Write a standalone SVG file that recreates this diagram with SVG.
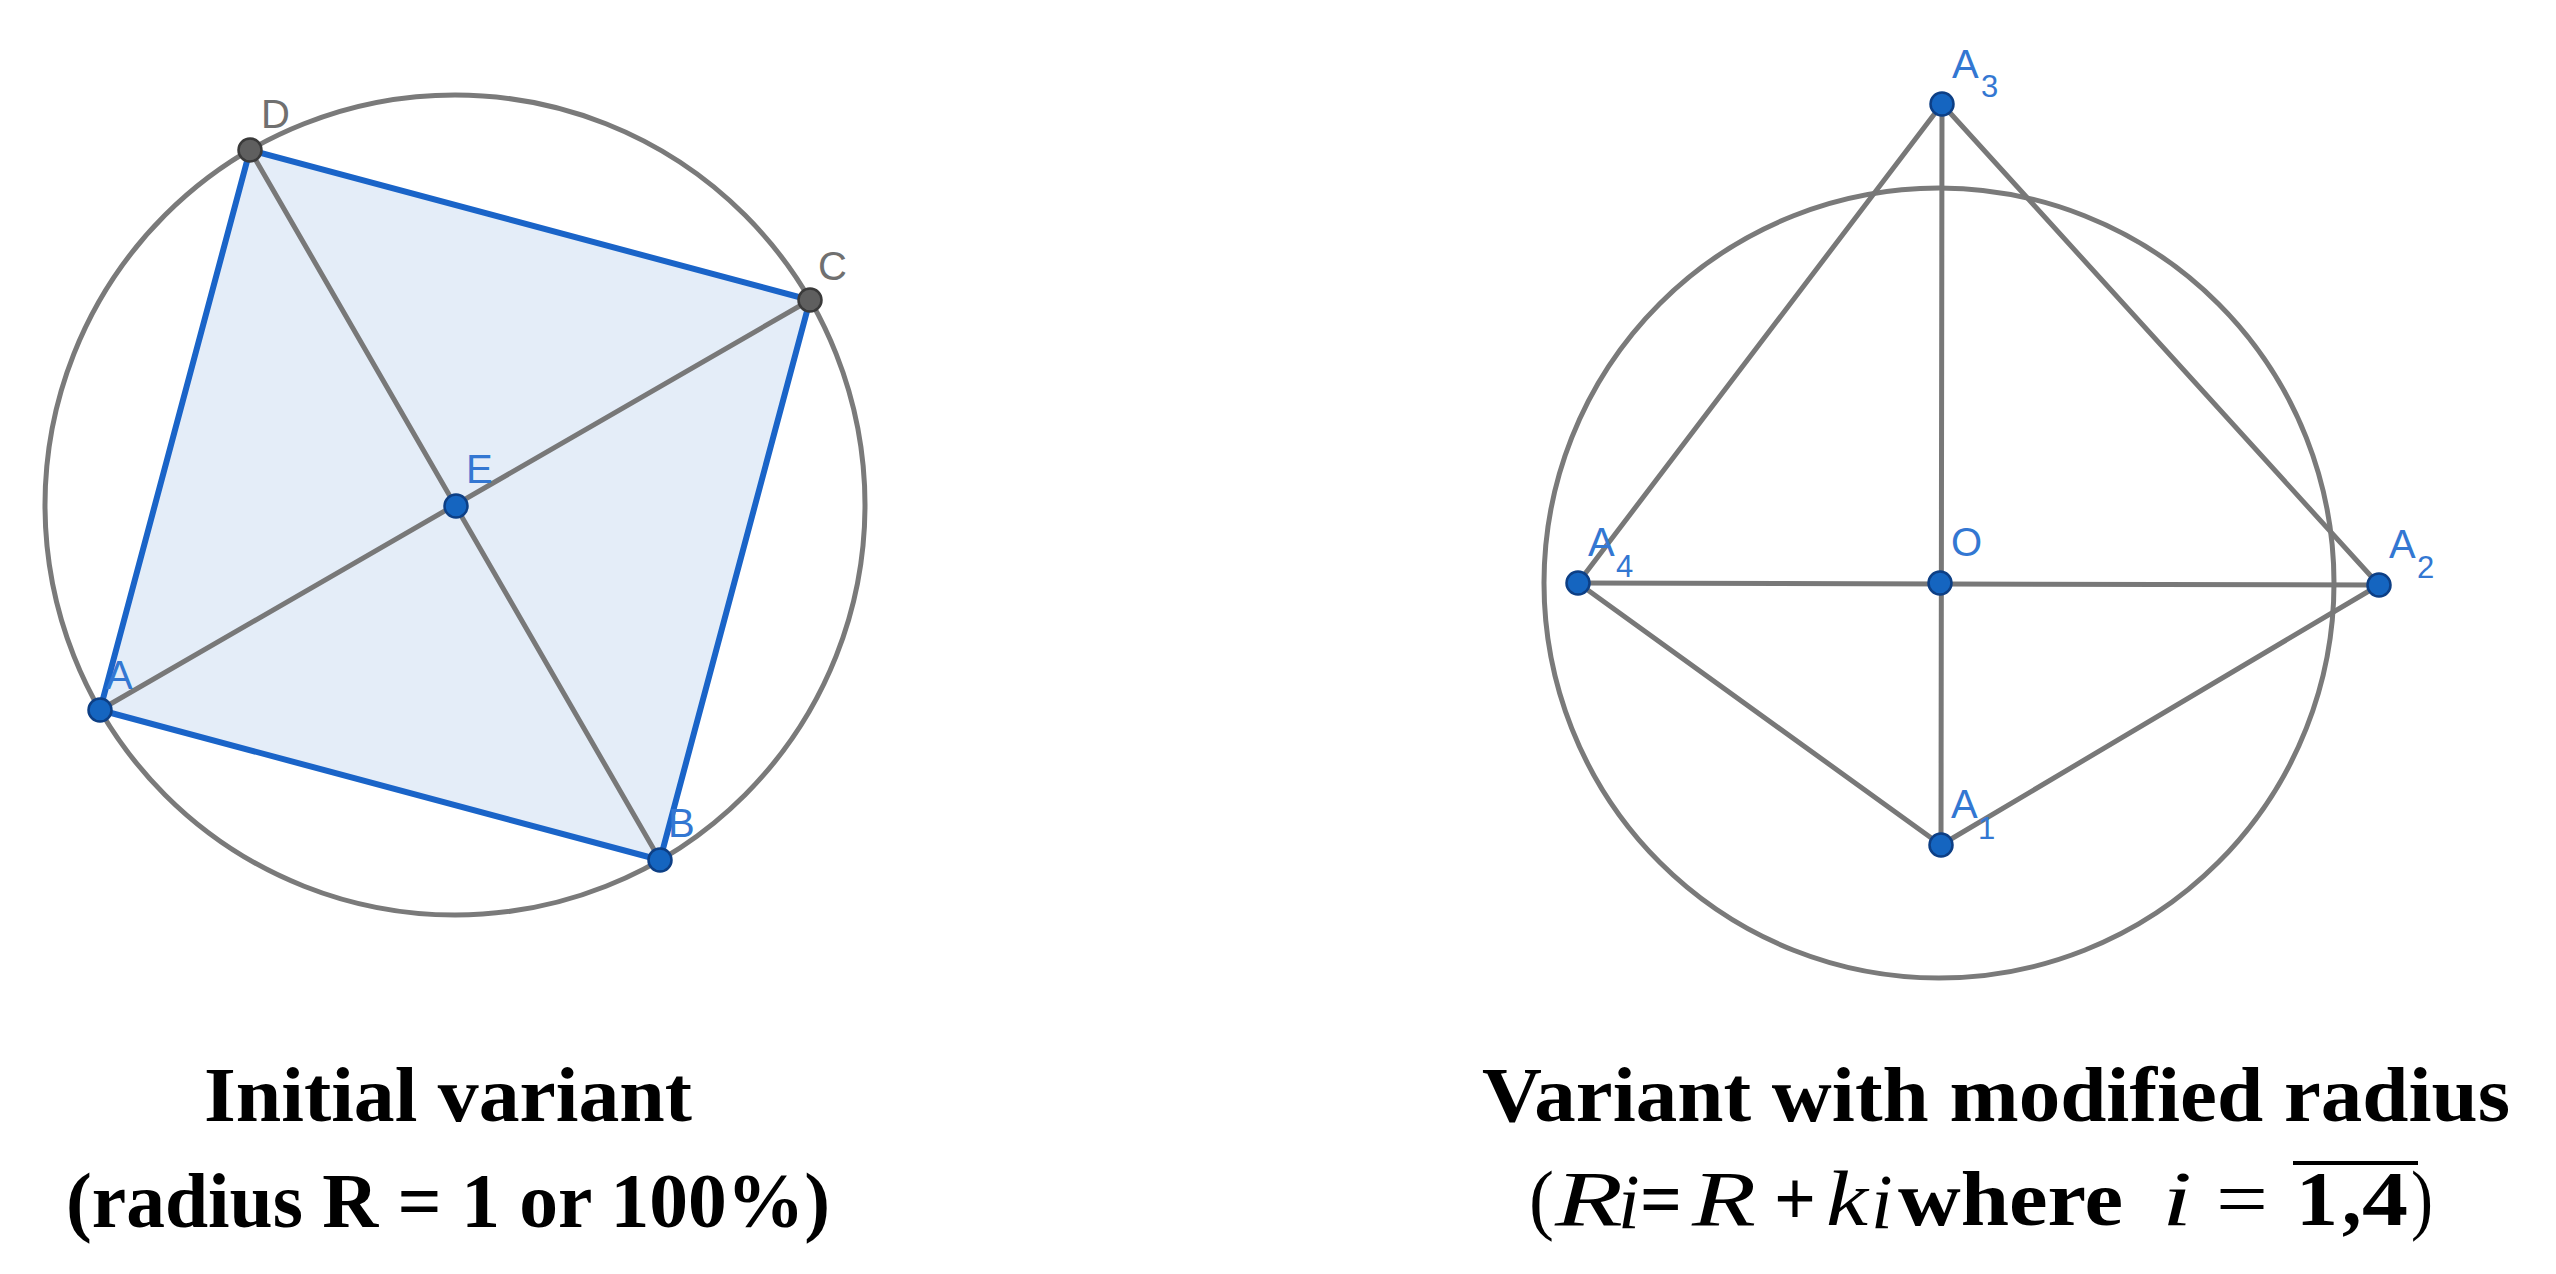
<svg xmlns="http://www.w3.org/2000/svg" width="2556" height="1274" viewBox="0 0 2556 1274">
<style>
.circ{fill:none;stroke:#7a7a7a;stroke-width:5}
.seg{stroke:#787878;stroke-width:5;stroke-linecap:round}
.edge{stroke:#1a64c8;stroke-width:6;stroke-linecap:round}
.pb{fill:#1565c0;stroke:#0d3f85;stroke-width:2.5}
.pg{fill:#5f5f5f;stroke:#3a3a3a;stroke-width:2.5}
.lb{font-family:"Liberation Sans",Arial,sans-serif;font-size:40px;fill:#3377d2}
.lg{font-family:"Liberation Sans",Arial,sans-serif;font-size:40px;fill:#707070}
.sub{font-size:31px}
.cap{font-family:"Liberation Serif","Times New Roman",serif;font-weight:bold;font-size:78px;fill:#000}
.it{font-style:italic;font-weight:normal}
.rg{font-weight:normal}
</style>
<rect width="2556" height="1274" fill="#fff"/>

<g id="left-figure">
  <circle id="circle-left" class="circ" cx="455" cy="505" r="410"/>
  <polygon id="square-ABCD" points="100,710 660,860 810,300 250,150" fill="#e4edf8" stroke="none"/>
  <g id="connectors-left">
    <line class="seg" x1="100" y1="710" x2="810" y2="300"/>
    <line class="seg" x1="250" y1="150" x2="660" y2="860"/>
    <line class="edge" x1="100" y1="710" x2="660" y2="860"/>
    <line class="edge" x1="660" y1="860" x2="810" y2="300"/>
    <line class="edge" x1="810" y1="300" x2="250" y2="150"/>
    <line class="edge" x1="250" y1="150" x2="100" y2="710"/>
  </g>
  <g id="node-A"><circle class="pb" cx="100" cy="710" r="11.5"/><text class="lb" x="106" y="689">A</text></g>
  <g id="node-B"><circle class="pb" cx="660" cy="860" r="11.5"/><text class="lb" x="668" y="837">B</text></g>
  <g id="node-C"><circle class="pg" cx="810" cy="300" r="11.5"/><text class="lg" x="818" y="280">C</text></g>
  <g id="node-D"><circle class="pg" cx="250" cy="150" r="11.5"/><text class="lg" x="261" y="128">D</text></g>
  <g id="node-E"><circle class="pb" cx="456" cy="506" r="11.5"/><text class="lb" x="466" y="483">E</text></g>
</g>

<g id="right-figure">
  <circle id="circle-right" class="circ" cx="1939" cy="583" r="395"/>
  <g id="connectors-right">
    <line class="seg" x1="1942" y1="104" x2="1578" y2="583"/>
    <line class="seg" x1="1942" y1="104" x2="2379" y2="585"/>
    <line class="seg" x1="1942" y1="104" x2="1941" y2="845"/>
    <line class="seg" x1="1578" y1="583" x2="2379" y2="585"/>
    <line class="seg" x1="1578" y1="583" x2="1941" y2="845"/>
    <line class="seg" x1="1941" y1="845" x2="2379" y2="585"/>
  </g>
  <g id="node-A3"><circle class="pb" cx="1942" cy="104" r="11.5"/><text class="lb" x="1952" y="78">A<tspan class="sub" x="1981" y="97">3</tspan></text></g>
  <g id="node-A2"><circle class="pb" cx="2379" cy="585" r="11.5"/><text class="lb" x="2389" y="558">A<tspan class="sub" x="2417" y="578">2</tspan></text></g>
  <g id="node-A4"><circle class="pb" cx="1578" cy="583" r="11.5"/><text class="lb" x="1588" y="556">A<tspan class="sub" x="1616" y="577">4</tspan></text></g>
  <g id="node-O"><circle class="pb" cx="1940" cy="583" r="11.5"/><text class="lb" x="1951" y="556">O</text></g>
  <g id="node-A1"><circle class="pb" cx="1941" cy="845" r="11.5"/><text class="lb" x="1951" y="818">A<tspan class="sub" x="1978" y="839">1</tspan></text></g>
</g>

<g id="captions">
  <text class="cap" x="448" y="1121" text-anchor="middle" textLength="488" lengthAdjust="spacingAndGlyphs">Initial variant</text>
  <text class="cap" x="448" y="1227" text-anchor="middle" textLength="764" lengthAdjust="spacingAndGlyphs">(radius R = 1 or 100%)</text>
  <text class="cap" x="1996" y="1121" text-anchor="middle" textLength="1028" lengthAdjust="spacingAndGlyphs">Variant with modified radius</text>
  <g id="caption-formula">
    <text class="cap rg" x="1529" y="1225" textLength="25" lengthAdjust="spacingAndGlyphs">(</text>
    <text class="cap it" x="1555" y="1225" font-size="82" textLength="68" lengthAdjust="spacingAndGlyphs">R</text>
    <text class="cap it" x="1618" y="1228" font-size="56">i</text>
    <text class="cap" x="1640" y="1225" textLength="42" lengthAdjust="spacingAndGlyphs">=</text>
    <text class="cap it" x="1692" y="1225" font-size="82" textLength="64" lengthAdjust="spacingAndGlyphs">R</text>
    <text class="cap" x="1774" y="1225" textLength="42" lengthAdjust="spacingAndGlyphs">+</text>
    <text class="cap it" x="1826" y="1225" font-size="82" textLength="42" lengthAdjust="spacingAndGlyphs">k</text>
    <text class="cap it" x="1871" y="1228" font-size="56">i</text>
    <text class="cap" x="1898" y="1225" textLength="225" lengthAdjust="spacingAndGlyphs">where</text>
    <text class="cap it" x="2162" y="1225" font-weight="bold" textLength="30" lengthAdjust="spacingAndGlyphs">i</text>
    <text class="cap rg" x="2216" y="1225" textLength="52" lengthAdjust="spacingAndGlyphs">=</text>
    <text class="cap" x="2296" y="1225" textLength="42" lengthAdjust="spacingAndGlyphs">1</text>
    <text class="cap" x="2342" y="1225">,</text>
    <text class="cap" x="2362" y="1225" textLength="46" lengthAdjust="spacingAndGlyphs">4</text>
    <text class="cap rg" x="2411" y="1225" textLength="22" lengthAdjust="spacingAndGlyphs">)</text>
    <line x1="2293" y1="1163" x2="2418" y2="1163" stroke="#000" stroke-width="4"/>
  </g>
</g>
</svg>
